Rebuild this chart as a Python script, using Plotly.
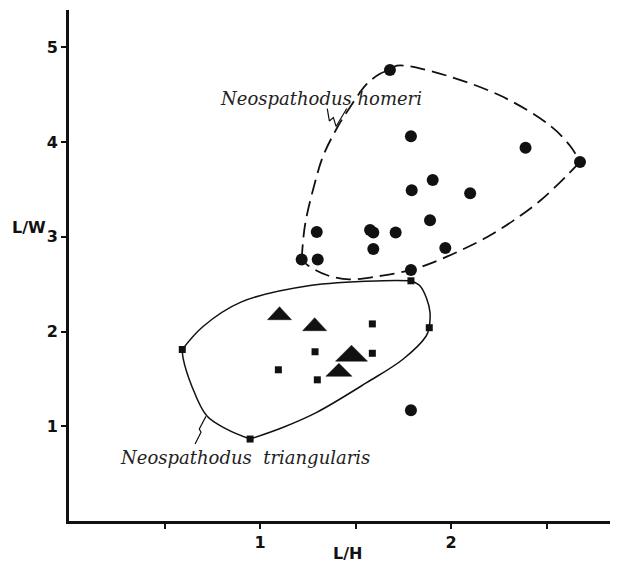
import plotly.graph_objects as go

# ---------------- data ----------------
# Neospathodus homeri (circles)
homeri_x = [1.68, 1.79, 2.39, 2.675, 1.904, 1.794, 2.10, 1.89, 1.297, 1.576, 1.593, 1.71,
            1.593, 1.97, 1.218, 1.302, 1.79, 1.79]
homeri_y = [4.76, 4.06, 3.94, 3.79, 3.60, 3.49, 3.46, 3.175, 3.05, 3.07, 3.045, 3.045,
            2.87, 2.88, 2.76, 2.76, 2.65, 1.17]

# Neospathodus triangularis (squares)
tri_sq_x = [1.79, 1.886, 0.593, 1.588, 1.288, 1.588, 1.096, 1.30, 0.948]
tri_sq_y = [2.535, 2.04, 1.81, 2.08, 1.786, 1.77, 1.596, 1.49, 0.865]

# triangles (centres)
tri_x = [1.102, 1.286, 1.479, 1.413]
tri_y = [2.193, 2.077, 1.771, 1.596]

# envelope of N. homeri (dashed), segments separated by None
homeri_env_x = [1.218, 1.236, 1.288, 1.331, 1.40, 1.471, 1.558, 1.628, 1.68, None,
                1.68, 1.716, 1.89, 2.257, 2.52, 2.623, 2.675, None,
                2.675, 2.606, 2.466, 2.326, 2.187, 2.047, 1.907, 1.79, 1.64, 1.47, 1.349, 1.253, 1.218]
homeri_env_y = [2.76, 3.13, 3.575, 3.855, 4.137, 4.366, 4.61, 4.72, 4.76, None,
                4.76, 4.805, 4.75, 4.49, 4.17, 3.96, 3.79, None,
                3.79, 3.645, 3.38, 3.17, 2.994, 2.853, 2.73, 2.65, 2.59, 2.55, 2.596, 2.695, 2.76]

# envelope of N. triangularis (solid)
tri_env_x = [0.593, 0.70, 0.90, 1.262, 1.646, 1.79, None,
             1.79, 1.838, 1.873, 1.89, 1.886, None,
             1.886, 1.869, 1.75, 1.558, 1.297, 1.122, 0.948, None,
             0.948, 0.825, 0.721, 0.642, 0.598, 0.593]
tri_env_y = [1.81, 2.05, 2.31, 2.485, 2.535, 2.535, None,
             2.535, 2.48, 2.343, 2.20, 2.04, None,
             2.04, 1.95, 1.71, 1.46, 1.147, 0.99, 0.865, None,
             0.865, 0.97, 1.11, 1.428, 1.71, 1.81]

# label leader squiggles
homeri_lead_x = [1.352, 1.363, 1.384, 1.398, 1.454]
homeri_lead_y = [4.353, 4.222, 4.258, 4.164, 4.353]
tri_lead_x = [0.660, 0.691, 0.682, 0.717]
tri_lead_y = [0.812, 0.936, 0.970, 1.104]

x_tickvals = [0.5, 1, 1.5, 2, 2.5]
x_ticktext = ["", "1", "", "2", ""]
y_tickvals = [1, 2, 3, 4, 5]
y_ticktext = ["1", "2", "3", "4", "5"]

# ---------------- style ----------------
# the page body has an 8px margin, so the figure is laid out 8px in from the window corner
OFF = 8
W, H = 618 - OFF, 563 - OFF
ML, MR, MT, MB = 69 - OFF, 0, 10 - OFF, 42
X_RANGE = [0, 2.874]
Y_RANGE = [0, 5.393]
PX_PER_X = 191.0
PX_PER_Y = 94.75
tri_w_px = [24, 24, 32, 26]
tri_h_px = [13, 13, 16, 13]
INK = "#111111"
TICKFONT = dict(family="DejaVu Sans", size=16, color=INK, weight="bold")
LABELFONT = dict(family="DejaVu Serif", size=18, color="#222222", style="italic")


def px_to_paper(px, py):
    # px, py: window pixel coordinates
    fx, fy = px - OFF, py - OFF
    return (fx - ML) / (W - ML - MR), (H - MB - fy) / (H - MT - MB)


fig = go.Figure()

fig.add_trace(go.Scatter(x=homeri_env_x, y=homeri_env_y, mode="lines",
                         line=dict(color=INK, width=1.8, dash="15px,7px", shape="spline", smoothing=1.0),
                         connectgaps=False, hoverinfo="skip"))
fig.add_trace(go.Scatter(x=tri_env_x, y=tri_env_y, mode="lines",
                         line=dict(color=INK, width=1.5, shape="spline", smoothing=1.0),
                         connectgaps=False, hoverinfo="skip"))
fig.add_trace(go.Scatter(x=homeri_lead_x, y=homeri_lead_y, mode="lines",
                         line=dict(color=INK, width=1.2), hoverinfo="skip"))
fig.add_trace(go.Scatter(x=tri_lead_x, y=tri_lead_y, mode="lines",
                         line=dict(color=INK, width=1.2), hoverinfo="skip"))

fig.add_trace(go.Scatter(x=homeri_x, y=homeri_y, mode="markers",
                         marker=dict(symbol="circle", size=12, color=INK, line=dict(width=0))))
fig.add_trace(go.Scatter(x=tri_sq_x, y=tri_sq_y, mode="markers",
                         marker=dict(symbol="square", size=7, color=INK, line=dict(width=0))))

# flat triangles as filled polygons around their centres
for cx, cy, wpx, hpx in zip(tri_x, tri_y, tri_w_px, tri_h_px):
    hw = wpx / 2 / PX_PER_X
    hh = hpx / 2 / PX_PER_Y
    fig.add_trace(go.Scatter(x=[cx - hw, cx + hw, cx, cx - hw],
                             y=[cy - hh, cy - hh, cy + hh, cy - hh],
                             mode="lines", fill="toself", fillcolor=INK,
                             line=dict(color=INK, width=0.5), hoverinfo="skip"))

fig.add_annotation(x=0.78, y=4.46, xref="x", yref="y", text="Neospathodus homeri",
                   showarrow=False, xanchor="left", yanchor="middle", font=LABELFONT)
fig.add_annotation(x=0.257, y=0.665, xref="x", yref="y", text="Neospathodus  triangularis",
                   showarrow=False, xanchor="left", yanchor="middle", font=LABELFONT)

lw_x, lw_y = px_to_paper(29, 227)
lh_x, lh_y = px_to_paper(347, 553)
fig.add_annotation(x=lw_x, y=lw_y, xref="paper", yref="paper", text="L/W",
                   showarrow=False, xanchor="center", yanchor="middle", font=TICKFONT)
fig.add_annotation(x=lh_x, y=lh_y, xref="paper", yref="paper", text="L/H",
                   showarrow=False, xanchor="center", yanchor="middle", font=TICKFONT)

fig.update_layout(
    width=W, height=H,
    margin=dict(l=ML, r=MR, t=MT, b=MB, autoexpand=False),
    plot_bgcolor="white", paper_bgcolor="white",
    showlegend=False,
    xaxis=dict(range=X_RANGE, showline=True, linewidth=3, linecolor=INK,
               ticks="outside", ticklen=5, tickwidth=2, tickcolor=INK,
               tickvals=x_tickvals, ticktext=x_ticktext, tickfont=TICKFONT,
               showgrid=False, zeroline=False, fixedrange=True, automargin=False),
    yaxis=dict(range=Y_RANGE, showline=True, linewidth=3, linecolor=INK,
               ticks="outside", ticklen=5, tickwidth=2, tickcolor=INK,
               tickvals=y_tickvals, ticktext=y_ticktext, tickfont=TICKFONT,
               showgrid=False, zeroline=False, fixedrange=True, automargin=False),
)

fig.write_html("out.html")
